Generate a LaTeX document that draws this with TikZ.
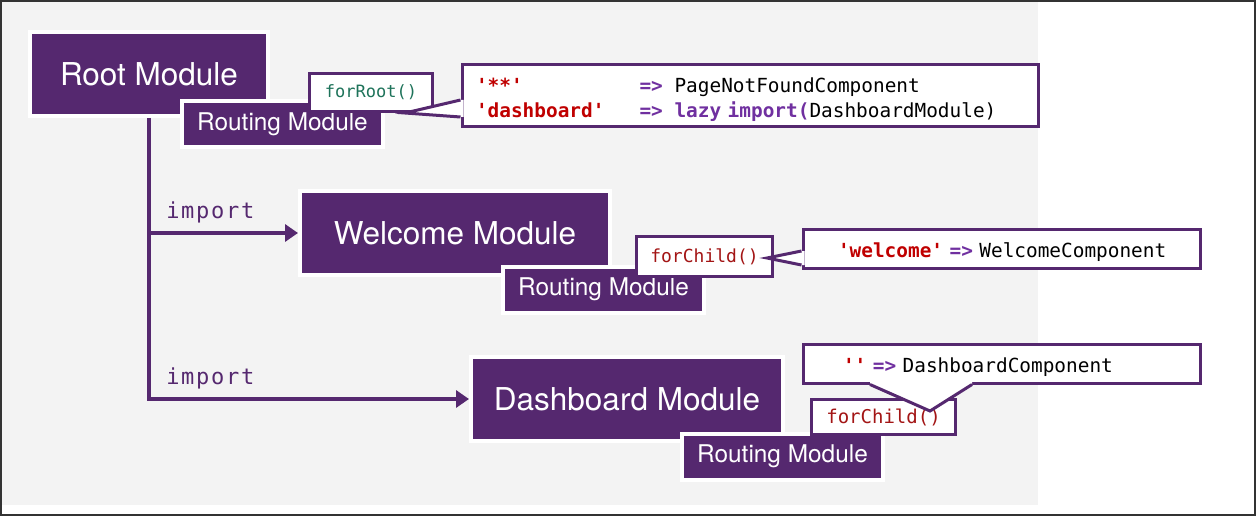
\documentclass[tikz,border=0pt]{standalone}
\usepackage{fontspec}
\setmainfont{TeX Gyre Heros}
\newfontfamily\codefont[Ligatures=TeXOff]{DejaVu Sans Mono}
\newfontfamily\importfont[Ligatures=TeXOff,LetterSpace=8]{DejaVu Sans Mono}
\usepackage{tikz}
\usetikzlibrary{arrows.meta}
\usetikzlibrary{calc}
\usetikzlibrary{shadows}
\definecolor{modpurple}{RGB}{85,40,111}
\definecolor{oppurple}{RGB}{112,48,160}
\definecolor{strred}{RGB}{192,0,0}
\definecolor{childred}{RGB}{163,21,21}
\definecolor{rootgreen}{RGB}{30,115,90}
\definecolor{panelgrey}{RGB}{243,243,243}
\definecolor{framegrey}{RGB}{51,51,51}
\tikzstyle{module}=[rectangle, fill=modpurple, draw=white, line width=4pt, text=white, inner sep=0pt,
  drop shadow={shadow xshift=1pt, shadow yshift=-2pt, opacity=0.3, fill=black}]
\tikzstyle{bigmodule}=[module, minimum height=84pt, font=\fontsize{31.5}{36}\selectfont]
\tikzstyle{routing}=[module, minimum width=201pt, minimum height=46pt, font=\fontsize{24.4}{28}\selectfont]
\tikzstyle{callbox}=[rectangle, fill=white, draw=modpurple, line width=3pt, inner sep=0pt, font=\codefont\fontsize{18}{22}\selectfont]
\tikzstyle{codebox}=[rectangle, fill=white, draw=modpurple, line width=3pt, inner xsep=6pt, inner ysep=0pt, align=left,
  font=\codefont\fontsize{19.4}{25}\selectfont]
\tikzstyle{codeline}=[modpurple, line width=3pt]
\tikzstyle{importarrow}=[-{Triangle[length=13pt,width=17pt]}, modpurple, line width=4.5pt]
\tikzstyle{importlabel}=[inner sep=0pt, text=modpurple, font=\importfont\fontsize{22}{26}\selectfont]
\tikzset{every picture/.style={
    x=1pt, y=-1pt
  }
}
\newcommand{\codestr}[1]{\textcolor{strred}{\bfseries #1}}
\newcommand{\codeop}[1]{\textcolor{oppurple}{\bfseries #1}}
\newcommand{\calltail}[4]{%
  \fill[white] ($(#1)+(#4)$) -- (#1) -- (#2) -- (#3) -- ($(#3)+(#4)$) -- cycle;
  \draw[codeline] (#1) -- (#2) -- (#3);
}
\begin{document}
\begin{tikzpicture}
        \useasboundingbox (0,0) rectangle (1256,516);
        \fill[panelgrey] (2,2) rectangle (1038,505);
        \draw[framegrey, line width=2pt] (1,1) rectangle (1255,515);
        % modules
        \node[bigmodule, minimum width=238pt] at (149,74) (root) {Root Module};
        \node[bigmodule, minimum width=310pt] at (455,233) (welcome) {Welcome Module};
        \node[bigmodule, minimum width=312pt] at (627,399) (dashboard) {Dashboard Module};
        \draw[importarrow] (root.south) |- node[importlabel, pos=0.5, anchor=base west, xshift=15pt, yshift=15pt] {import} (dashboard.west);
        \draw[importarrow] (root.south |- welcome.west) -- node[importlabel, pos=0, anchor=base west, xshift=15pt, yshift=15pt] {import} (welcome.west);
        \node[routing] at (282.5,124) (rootrouting) {Routing Module};
        \node[routing] at (603.5,289.5) (welcomerouting) {Routing Module};
        \node[routing] at (782.5,456.5) (dashrouting) {Routing Module};
        % forRoot / forChild
        \node[callbox, text=rootgreen, minimum width=123pt, minimum height=38pt, font=\codefont\fontsize{17}{20}\selectfont] at (371,92.5) (forroot) {forRoot()};
        \node[callbox, text=childred, minimum width=136pt, minimum height=40pt] at (704.5,256.5) (welcomechild) {forChild()};
        \node[callbox, text=childred, minimum width=144pt, minimum height=35pt, font=\codefont\fontsize{19}{22}\selectfont] at (883.5,417) (dashchild) {forChild()};
        % routes
        \node[codebox, text width=564pt, minimum height=62pt] at (750,96) (rootroutes)
          {\rule{0pt}{22pt}\hspace*{8pt}\codestr{'**'}\hphantom{0000000000}\codeop{=>}\hphantom{0}PageNotFoundComponent\\
           \hspace*{8pt}\codestr{'dashboard'}\hphantom{000}\codeop{=>}\hphantom{0}\codeop{lazy import(}DashboardModule)};
        \node[codebox, text width=385pt, minimum height=39pt] at (1001.5,248.5) (welcomeroutes)
          {\rule{0pt}{23pt}\hspace*{29pt}\codestr{'welcome'} \codeop{=>} WelcomeComponent};
        \node[codebox, text width=385pt, minimum height=39pt] at (1001.5,363.5) (dashroutes)
          {\rule{0pt}{23pt}\hspace*{34pt}\codestr{''} \codeop{=>} DashboardComponent};
        \coordinate (roottip) at (405,113);
        \coordinate (roottop) at ($(rootroutes.west)+(0,4)$);
        \coordinate (rootbot) at ($(rootroutes.west)+(0,21)$);
        \calltail{roottop}{roottip}{rootbot}{3,0}
        \coordinate (welcometip) at (767,258);
        \coordinate (welcometop) at ($(welcomeroutes.west)+(0,2.5)$);
        \coordinate (welcomebot) at ($(welcomeroutes.west)+(0,16.5)$);
        \calltail{welcometop}{welcometip}{welcomebot}{3,0}
        \coordinate (dashtip) at (930,411);
        \coordinate (dashleft) at ($(dashroutes.south)+(-131.5,0)$);
        \coordinate (dashright) at ($(dashroutes.south)+(-29.5,0)$);
        \calltail{dashleft}{dashtip}{dashright}{0,-3}
      \end{tikzpicture}
\end{document}
